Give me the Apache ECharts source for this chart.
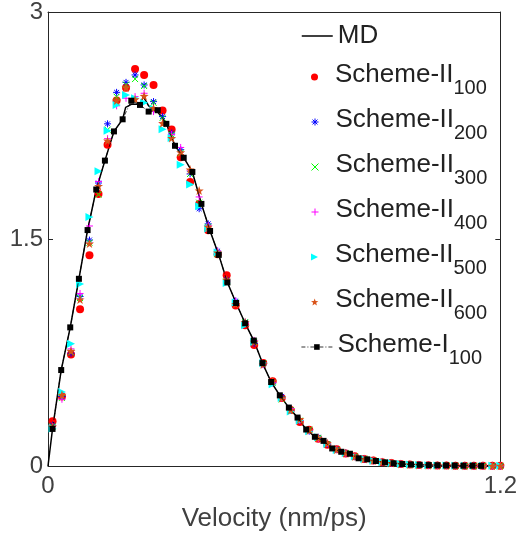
<!DOCTYPE html>
<html>
<head>
<meta charset="utf-8">
<script src="https://cdn.jsdelivr.net/npm/echarts@6/dist/echarts.min.js"></script>
<style>
html,body{margin:0;padding:0;background:#fff;}
#c{width:520px;height:539px;}
</style>
</head>
<body>
<div id="c"></div>
<script>
// ---- data ----
var seriesNames = ['MD','Scheme-II_100','Scheme-II_200','Scheme-II_300','Scheme-II_400','Scheme-II_500','Scheme-II_600','Scheme-I_100'];
var xTicks = [0, 1.2];
var yTicks = [0, 1.5, 3];

var mdX = [0,0.012,0.035,0.059,0.082,0.105,0.128,0.151,0.175,0.198,0.206,0.221,0.244,0.253,0.267,0.291,0.314,0.337,0.360,0.383,0.407,0.430,0.453,0.476,0.499,0.523,0.546,0.569,0.592,0.615,0.639,0.662,0.685,0.708,0.731,0.754,0.778,0.801,0.824,0.847,0.870,0.894,0.917,0.940,0.986,1.033,1.079,1.126,1.200];
var mdY = [0,0.245,0.634,0.916,1.237,1.559,1.827,2.018,2.211,2.291,2.37,2.39,2.39,2.44,2.38,2.34,2.261,2.116,2.037,1.943,1.732,1.553,1.395,1.213,1.077,0.943,0.829,0.680,0.555,0.467,0.386,0.320,0.241,0.193,0.160,0.116,0.094,0.078,0.055,0.044,0.033,0.024,0.018,0.013,0.008,0.005,0.003,0.002,0.001];

var xsII = [0.012,0.037,0.061,0.085,0.110,0.134,0.158,0.182,0.207,0.231,0.255,0.280,0.304,0.328,0.352,0.377,0.401,0.425,0.450,0.474,0.498,0.523,0.547,0.571,0.596,0.620,0.644,0.668,0.693,0.717,0.741,0.766,0.790,0.814,0.839,0.863,0.887,0.911,0.936,0.960,0.984,1.009,1.033,1.057,1.081,1.106,1.130,1.154,1.179,1.200];
var s100 = [0.296,0.46,0.737,1.035,1.393,1.798,2.123,2.415,2.50,2.623,2.584,2.518,2.349,2.224,2.041,1.877,1.732,1.557,1.40,1.26,1.06,0.93,0.80,0.68,0.56,0.45,0.37,0.29,0.24,0.18,0.14,0.11,0.083,0.064,0.046,0.036,0.025,0.019,0.013,0.010,0.007,0.005,0.004,0.003,0.002,0.002,0.001,0.001,0.001,0.001];
var s200 = [0.27,0.46,0.745,1.12,1.493,1.870,2.261,2.469,2.535,2.584,2.518,2.408,2.309,2.20,2.09,1.93,1.70,1.60,1.42,1.23,1.09,0.95,0.81,0.67,0.55,0.46,0.37,0.30,0.23,0.19,0.145,0.11,0.086,0.062,0.047,0.035,0.026,0.018,0.014,0.010,0.007,0.005,0.004,0.003,0.002,0.001,0.001,0.001,0.001,0.001];
var s300 = [0.26,0.45,0.75,1.11,1.476,1.794,2.222,2.44,2.52,2.557,2.511,2.40,2.30,2.19,2.07,1.93,1.74,1.58,1.40,1.22,1.08,0.95,0.82,0.68,0.55,0.44,0.37,0.30,0.24,0.185,0.145,0.107,0.085,0.063,0.048,0.036,0.026,0.019,0.014,0.010,0.007,0.005,0.004,0.003,0.002,0.001,0.001,0.001,0.001,0.001];
var s400 = [0.26,0.441,0.774,1.140,1.586,1.88,2.163,2.38,2.43,2.441,2.463,2.342,2.27,2.19,2.105,1.95,1.778,1.59,1.42,1.22,1.09,0.94,0.83,0.67,0.55,0.45,0.38,0.30,0.235,0.18,0.15,0.11,0.084,0.064,0.047,0.035,0.026,0.019,0.013,0.010,0.007,0.005,0.004,0.003,0.002,0.002,0.001,0.001,0.001,0.001];
var s500 = [0.248,0.489,0.807,1.202,1.645,1.947,2.215,2.386,2.452,2.43,2.401,2.36,2.226,2.167,1.99,1.86,1.717,1.57,1.41,1.21,1.08,0.93,0.82,0.68,0.54,0.45,0.36,0.30,0.23,0.19,0.145,0.106,0.086,0.062,0.047,0.035,0.026,0.019,0.014,0.010,0.007,0.005,0.004,0.003,0.002,0.001,0.001,0.001,0.001,0.001];
var s600 = [0.26,0.47,0.76,1.10,1.47,1.85,2.15,2.415,2.50,2.423,2.445,2.364,2.265,2.167,2.072,1.959,1.82,1.58,1.41,1.23,1.07,0.95,0.82,0.67,0.56,0.45,0.37,0.31,0.235,0.185,0.15,0.108,0.085,0.063,0.047,0.036,0.026,0.019,0.014,0.010,0.007,0.005,0.004,0.003,0.002,0.001,0.001,0.001,0.001,0.001];

var xsI = [0.012,0.035,0.059,0.082,0.105,0.128,0.151,0.175,0.198,0.221,0.244,0.267,0.291,0.314,0.337,0.360,0.383,0.407,0.430,0.453,0.476,0.499,0.523,0.546,0.569,0.592,0.615,0.639,0.662,0.685,0.708,0.731,0.754,0.778,0.801,0.824,0.847,0.870,0.894,0.917,0.940,0.963,0.986,1.010,1.033,1.056,1.079,1.102,1.126,1.149];
var i100 = [0.245,0.634,0.916,1.237,1.559,1.827,2.018,2.211,2.291,2.414,2.386,2.342,2.351,2.261,2.116,2.037,1.943,1.732,1.553,1.395,1.213,1.077,0.943,0.829,0.680,0.555,0.467,0.386,0.320,0.241,0.193,0.166,0.116,0.094,0.081,0.051,0.044,0.033,0.024,0.018,0.013,0.010,0.008,0.006,0.005,0.004,0.003,0.002,0.002,0.001];

// ---- helpers ----
function zip(xs, ys){ return xs.map(function(x,i){ return [x, ys[i]]; }); }
var FONT = '"Liberation Sans", Arial, Helvetica, sans-serif';
var AX = '#262626';
var TXT = '#404040';

var SYM = {
  asterisk: 'path://M5 0L5 10M0 5L10 5M1.5 1.5L8.5 8.5M1.5 8.5L8.5 1.5',
  cross: 'path://M0 0L10 10M0 10L10 0',
  plus: 'path://M5 0L5 10M0 5L10 5',
  tri: 'path://M0 0L10 5L0 10Z',
  star: 'path://M5 0L6.18 3.38L9.76 3.45L6.9 5.62L7.94 9.05L5 7L2.06 9.05L3.1 5.62L0.24 3.45L3.82 3.38Z'
};

var scatterDefs = [
  {data: s100, color: '#ff0000', symbol: 'circle', size: 8, stroke: false},
  {data: s200, color: '#0000ff', symbol: SYM.asterisk, size: 7, stroke: true},
  {data: s300, color: '#00ff00', symbol: SYM.cross, size: 6, stroke: true},
  {data: s400, color: '#ff00ff', symbol: SYM.plus, size: 7, stroke: true},
  {data: s500, color: '#00ffff', symbol: SYM.tri, size: 8, stroke: false},
  {data: s600, color: '#d95319', symbol: SYM.star, size: 9, stroke: false}
];

var series = [{
  name: seriesNames[0], type: 'line', data: zip(mdX, mdY), symbol: 'none',
  lineStyle: {color: '#000', width: 1.5}, itemStyle: {color: '#000'}, z: 2
}];
scatterDefs.forEach(function(d, k){
  series.push({
    name: seriesNames[k+1], type: 'scatter', data: zip(xsII, d.data),
    symbol: d.symbol, symbolSize: d.size,
    itemStyle: d.stroke ? {color: d.color, borderColor: d.color, borderWidth: 1, opacity: 1}
                        : {color: d.color, opacity: 1},
    z: 3 + k
  });
});
series.push({
  name: seriesNames[7], type: 'line', data: zip(xsI, i100),
  symbol: 'rect', symbolSize: 6, showSymbol: true,
  itemStyle: {color: '#000'},
  lineStyle: {color: '#000', width: 0.8, type: [4, 2, 1, 2]}, z: 10
});

// legends: one component per entry
var legendTops = [21, 62, 107, 152, 197, 242, 287, 332];
var legendLefts = [301, 311, 311, 311, 311, 311, 311, 301];
var legends = seriesNames.map(function(n, k){
  var lg = {
    data: [n], orient: 'vertical', left: legendLefts[k], top: legendTops[k], padding: 0,
    itemWidth: 31, itemHeight: 7, symbolKeepAspect: true,
    selectedMode: false,
    textStyle: {fontFamily: FONT, fontSize: 26, color: '#222', lineHeight: 30,
      rich: {
        m: {fontFamily: FONT, fontSize: 26, lineHeight: 30, color: '#222', verticalAlign: 'top'},
        s: {fontFamily: FONT, fontSize: 20, lineHeight: 22, color: '#222', verticalAlign: 'top', padding: [16, 0, 0, 0]}
      }
    },
    formatter: function(name){
      var p = name.split('_');
      return p.length > 1 ? '{m|' + p[0] + '}{s|' + p[1] + '}' : name;
    }
  };
  if (k === 0) { lg.lineStyle = {width: 1.5}; lg.itemStyle = {opacity: 0}; }
  else if (k === 7) lg.lineStyle = {width: 0.8};
  else if (scatterDefs[k-1].stroke) lg.itemStyle = {borderWidth: 1};
  else lg.itemStyle = {borderWidth: 0};
  return lg;
});

function valAxis(pos, min, max, interval, showLabel, extra){
  var a = {
    type: 'value', position: pos, min: min, max: max, interval: interval,
    axisLine: {show: true, onZero: false, lineStyle: {color: AX, width: 1}},
    axisTick: {show: true, inside: true, length: 5, lineStyle: {color: AX, width: 1}},
    axisLabel: {show: showLabel, fontFamily: FONT, fontSize: 24, color: TXT, margin: 5,
                showMinLabel: true, showMaxLabel: true},
    splitLine: {show: false}
  };
  if (extra) for (var k in extra) a[k] = extra[k];
  return a;
}

var option = {
  animation: false,
  backgroundColor: '#fff',
  grid: {left: 48, right: 15, top: 10, bottom: 73, containLabel: false},
  legend: legends,
  xAxis: [
    valAxis('bottom', xTicks[0], xTicks[xTicks.length-1], xTicks[1]-xTicks[0], true, {
      name: 'Velocity (nm/ps)', nameLocation: 'middle', nameGap: 40,
      nameTextStyle: {fontFamily: FONT, fontSize: 26, color: TXT}
    }),
    valAxis('top', xTicks[0], xTicks[xTicks.length-1], xTicks[1]-xTicks[0], false)
  ],
  yAxis: [
    valAxis('left', yTicks[0], yTicks[yTicks.length-1], yTicks[1]-yTicks[0], true),
    valAxis('right', yTicks[0], yTicks[yTicks.length-1], yTicks[1]-yTicks[0], false)
  ],
  series: series
};
option.xAxis[0].axisLabel.margin = 8;

var chart = echarts.init(document.getElementById('c'), null, {renderer: 'canvas'});
chart.setOption(option);
</script>
</body>
</html>
